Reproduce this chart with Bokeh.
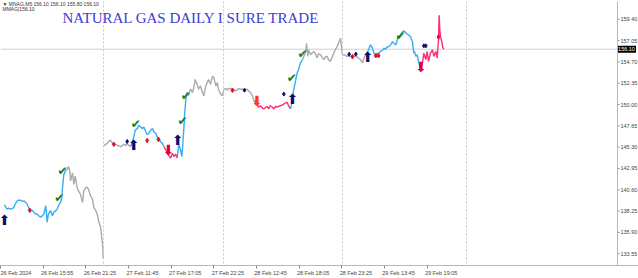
from bokeh.plotting import figure
from bokeh.models import Range1d, FixedTicker, Span, Label, ColumnDataSource
from bokeh.core.properties import value
from bokeh.embed import file_html
from bokeh.resources import INLINE

# ---------------- data (x = 5-minute bar number, y = price) ----------------
d1_bar = [6, 8, 10, 12, 15, 18, 20, 22, 25, 27, 30, 33, 35, 38, 40, 44, 48, 50, 52, 55,
          57, 60, 63, 65, 68, 70, 72, 75, 78, 80, 83, 85, 87, 90, 92, 93, 95, 98, 100,
          102, 104, 105, 108, 110, 112, 115, 117, 120, 123, 125, 128, 130, 132, 135, 138,
          140, 143, 145, 147, 150, 153, 154]
d1_close = [138.95, 138.66, 138.47, 138.58, 138.47, 138.55, 138.66, 139.01, 139.38, 139.45,
            139.45, 139.31, 139.38, 139.20, 139.01, 138.36, 138.30, 138.11, 137.93, 137.93,
            137.75, 137.57, 137.75, 137.93, 138.84, 137.03, 137.93, 138.30, 137.75, 138.11,
            138.30, 138.47, 138.84, 139.20, 139.74, 140.83, 142.27, 142.82, 142.82,
            143.18, 142.64, 141.56, 142.46, 141.19, 142.10, 140.83, 140.47, 140.10, 139.20,
            140.47, 140.83, 140.90, 140.64, 139.93, 139.56, 138.66, 138.30, 137.93, 137.21,
            136.48, 134.67, 133.04]
d1_runs = [("up", 39), ("flat", 23)]

d2_bar = [155, 158, 160, 162, 165, 168, 170, 172, 175, 177, 180, 183, 185, 188, 190, 192, 195,
          198, 200, 202, 205, 207, 210, 213, 215, 218, 220, 222, 225, 228, 230, 233, 235, 237,
          240, 243, 245,
          248, 250, 252, 255, 258, 260, 263, 265,
          267, 268, 270, 272, 273, 275, 276, 278, 280,
          282, 285, 288, 290, 292, 295, 297, 300, 303, 305, 308, 310, 312, 315, 318, 320, 323,
          325, 327, 330, 333]
d2_close = [145.47, 145.61, 145.72, 145.90, 146.07, 145.72, 145.61, 145.61, 145.53, 145.47,
            145.36, 145.47, 145.61, 145.47, 145.72, 145.53, 145.36,
            145.90, 146.44, 147.16, 147.34, 147.70, 147.53, 147.34, 147.53, 146.99, 146.69,
            146.80, 147.16, 147.34, 146.99, 146.80, 146.44, 146.26, 145.90, 145.72, 145.36,
            144.99, 144.63, 144.44, 144.09, 144.63, 144.27, 144.52, 144.09,
            145.36, 145.53, 144.99, 144.27, 145.17, 147.34, 148.79, 150.60, 151.33,
            150.96, 151.69, 151.33, 151.87, 152.77, 152.23, 151.69, 152.05, 151.33, 150.96,
            152.05, 152.42, 152.77, 152.23, 153.13, 152.96, 152.05, 152.42, 151.69, 151.15,
            150.96]
d2_runs = [("flat", 17), ("up", 20), ("down", 8), ("up", 9), ("flat", 21)]

d3_bar = [335, 338, 340, 342, 345, 348, 350, 352, 355, 357, 360, 363, 366, 370, 372, 375, 378, 380,
          382, 385, 387, 390, 393, 395, 398, 400, 402, 405, 408, 410, 413, 415, 417, 420, 423,
          425, 428, 430, 432, 435,
          437, 438, 440, 443, 445, 447, 450, 453,
          455, 458, 459, 461, 462, 465, 468, 470, 473, 475, 477, 480, 483, 485, 488, 490, 492,
          495, 498, 500, 502, 505, 507, 510]
d3_close = [151.69, 151.76, 151.61, 151.76, 151.76, 151.61, 151.61, 151.50, 151.61, 151.76,
            151.69, 151.69, 151.61, 151.69, 151.50, 151.33, 150.96, 150.42,
            150.31, 150.06, 149.70, 149.87, 149.59, 149.52, 149.70, 149.81, 149.52, 149.87,
            149.70, 149.52, 149.81, 149.70, 149.81, 149.87, 149.95, 150.06, 150.17, 150.24,
            149.87, 149.52,
            150.24, 150.79, 151.69, 152.77, 153.50, 153.86, 154.59, 154.95,
            155.31, 155.85, 156.76, 155.31, 156.03, 155.49, 155.74, 155.85, 155.49, 155.13,
            155.60, 155.49, 155.13, 154.95, 155.31, 155.31, 154.95, 154.76, 155.31, 155.67,
            156.03, 156.39, 156.76, 157.30]
d3_runs = [("flat", 18), ("down", 22), ("up", 8), ("flat", 24)]

d4_bar = [513, 515, 518, 520, 522, 525, 528, 530, 533, 535, 537, 540, 543, 545, 548,
          550, 552, 555, 558, 560, 563, 565, 567, 570, 573, 575, 578, 580, 582, 585, 588, 590,
          593, 595, 597, 600, 603, 605, 608, 610, 612, 615, 618, 619, 620, 621, 623, 625, 627, 630,
          633, 635, 638, 640, 642, 645, 648, 650, 653, 655, 657, 658, 659, 660, 662, 663, 665]
d4_close = [155.49, 155.49, 155.38, 155.31, 155.38, 155.31, 155.31, 155.38, 155.31, 155.24,
            155.13, 154.95, 154.59, 155.13, 155.49,
            155.74, 156.03, 156.58, 156.22, 155.67, 155.49, 155.67, 155.60, 155.85, 155.96,
            156.22, 156.11, 156.39, 156.33, 156.58, 156.93, 156.76, 156.58, 157.12, 157.48,
            157.66, 158.02, 158.13, 157.91, 157.77, 157.66, 157.48, 156.93, 156.22, 155.67,
            155.85, 155.31, 155.49, 154.76, 153.86,
            154.59, 155.67, 154.95, 155.85, 154.76, 155.67, 156.03, 155.31, 155.85, 155.13,
            157.12, 159.83, 158.21, 157.48, 156.93, 156.39, 156.10]
d4_runs = [("flat", 15), ("up", 35), ("down", 17)]

days = [(d1_bar, d1_close, d1_runs, False),
        (d2_bar, d2_close, d2_runs, False),
        (d3_bar, d3_close, d3_runs, True),
        (d4_bar, d4_close, d4_runs, True)]

up_arrow_bar = [6, 200, 266, 438, 551]
up_arrow_price = [137.24, 145.50, 146.04, 150.60, 155.27]
dn_arrow_bar = [252, 385, 631]
dn_arrow_price = [144.95, 150.39, 154.13]
dn_arrow_color = ["#e4003c", "#ff3a1a", "#e4003c"]
check_bar = [88, 93, 203, 273, 278, 437, 453, 600]
check_price = [139.74, 142.67, 147.89, 148.21, 150.93, 152.88, 155.60, 157.55]
red_dot_bar = [44, 170, 220, 237, 348, 528, 563, 567, 657]
red_dot_price = [138.33, 145.61, 146.04, 146.15, 151.58, 155.27, 155.38, 155.38, 157.45]
navy_dot_bar = [190, 366, 425, 523, 533, 635, 638]
navy_dot_price = [145.93, 151.58, 151.15, 155.54, 155.56, 156.47, 156.47]

tick_bars = [0, 64, 128, 192, 256, 320, 384, 448, 512, 576, 640]
tick_labels = ["26 Feb 2024", "26 Feb 15:55", "26 Feb 21:25", "27 Feb 11:45", "27 Feb 17:05",
               "27 Feb 22:25", "28 Feb 12:45", "28 Feb 18:05", "28 Feb 23:25", "29 Feb 13:45",
               "29 Feb 19:05"]
price_ticks = [133.55, 135.90, 138.25, 140.60, 142.95, 145.30, 147.65, 150.00, 152.35,
               154.70, 157.05, 159.40]
separator_bars = [154.5, 334.5, 513, 699]
last_price = 156.10
header_1 = "\u25bc MNAG,M5  156.10 156.10 155.80 156.10"
header_2 = "MMAG|156.10"
title_text = "NATURAL GAS  DAILY I SURE TRADE"

trend_colors = {"up": "#38acf5", "down": "#ff2a78", "flat": "#ababab"}

# ---------------- layout constants ----------------
BARS_PER_PX = 1.5
CANVAS_W = 638
EDGE = 617 * BARS_PER_PX          # right edge of the chart area (price scale starts here)
Y_LO, Y_HI = 132.25, 161.36

p = figure(width=CANVAS_W, height=278, output_backend="svg", toolbar_location=None,
           x_range=Range1d(0, CANVAS_W * BARS_PER_PX), y_range=Range1d(Y_LO, Y_HI),
           min_border_left=0, min_border_top=1, min_border_right=0, min_border_bottom=0)
p.yaxis.visible = False
p.xgrid.visible = False
p.ygrid.visible = False
p.outline_line_color = None
p.background_fill_color = "white"
p.border_fill_color = "white"

# separators, chart edge and last-price line
for sb in separator_bars:
    p.add_layout(Span(location=sb, dimension="height", line_color="#c8c8c8",
                      line_width=1, line_dash="2 2"))
p.add_layout(Span(location=EDGE, dimension="height", line_color="#b8b8b8", line_width=1))
p.segment(x0=[0], y0=[last_price], x1=[EDGE], y1=[last_price], line_color="#cfcfcf",
          line_width=1)

# price line, coloured by trend state
xs, ys, cs = [], [], []
prev = None
for bars, closes, runs, connect in days:
    i = 0
    for state, n in runs:
        seg_x = list(bars[i:i + n])
        seg_y = list(closes[i:i + n])
        if i > 0:
            seg_x.insert(0, bars[i - 1])
            seg_y.insert(0, closes[i - 1])
        elif connect and prev is not None:
            seg_x.insert(0, prev[0])
            seg_y.insert(0, prev[1])
        xs.append(seg_x)
        ys.append(seg_y)
        cs.append(trend_colors[state])
        i += n
    prev = (bars[-1], closes[-1])

p.multi_line(xs=xs, ys=ys, line_color=cs, line_width=1.4)

# signals
p.scatter(red_dot_bar, red_dot_price, marker="diamond", size=4.5, color="#e0102a")
p.scatter(navy_dot_bar, navy_dot_price, marker="diamond", size=4, color="#0c0c70")
p.text(x=check_bar, y=check_price, text=["\u2714"] * len(check_bar),
       text_font=value("DejaVu Sans"), text_font_size="12px", text_color="#16801a",
       text_align="center", text_baseline="middle")
p.text(x=up_arrow_bar, y=up_arrow_price, text=["\u2b06"] * len(up_arrow_bar),
       text_font=value("DejaVu Sans"), text_font_size="14px", text_color="#0b0b6b",
       text_align="center", text_baseline="middle")
src_dn = ColumnDataSource(dict(x=dn_arrow_bar, y=dn_arrow_price, c=dn_arrow_color,
                               t=["\u2b07"] * len(dn_arrow_bar)))
p.text(x="x", y="y", text="t", text_color="c", source=src_dn,
       text_font=value("DejaVu Sans"), text_font_size="14px",
       text_align="center", text_baseline="middle")

# price scale (drawn at the right of the chart area)
p.segment(x0=[EDGE] * len(price_ticks), y0=price_ticks,
          x1=[EDGE + 2 * BARS_PER_PX] * len(price_ticks), y1=price_ticks,
          line_color="#888888", line_width=1)
p.text(x=[EDGE + 3 * BARS_PER_PX] * len(price_ticks), y=price_ticks,
       text=[f"{v:.2f}" for v in price_ticks], text_font=value("Liberation Sans"),
       text_font_size="5.5px", text_color="#444444", text_align="left",
       text_baseline="middle")
p.rect(x=[EDGE + 9 * BARS_PER_PX], y=[last_price], width=19, height=7,
       width_units="screen", height_units="screen", fill_color="black", line_color=None)
p.text(x=[EDGE + 9 * BARS_PER_PX], y=[last_price], text=[f"{last_price:.2f}"],
       text_font=value("Liberation Sans"), text_font_size="5.5px", text_color="white",
       text_align="center", text_baseline="middle")

# time axis
p.xaxis.ticker = FixedTicker(ticks=[t + 21 for t in tick_bars], minor_ticks=tick_bars)
p.xaxis.major_label_overrides = {t + 21: lab for t, lab in zip(tick_bars, tick_labels)}
p.xaxis.major_tick_in = 0
p.xaxis.major_tick_out = 0
p.xaxis.minor_tick_in = 0
p.xaxis.minor_tick_out = 3
p.xaxis.minor_tick_line_color = "#888888"
p.xaxis.axis_line_color = "#b8b8b8"
p.xaxis.major_label_standoff = 1
p.xaxis.major_label_text_font = "Liberation Sans"
p.xaxis.major_label_text_font_size = "5.5px"
p.xaxis.major_label_text_color = "#444444"

# texts
p.add_layout(Label(x=62, y=248, x_units="screen", y_units="screen", text=title_text,
                   text_font="Liberation Serif", text_font_size="15px",
                   text_color="#3c3cd2", text_baseline="alphabetic"))
p.add_layout(Label(x=2, y=262, x_units="screen", y_units="screen", text=header_1,
                   text_font="Liberation Sans", text_font_size="5px",
                   text_color="#333333", text_baseline="alphabetic"))
p.add_layout(Label(x=2, y=257, x_units="screen", y_units="screen", text=header_2,
                   text_font="Liberation Sans", text_font_size="5px",
                   text_color="#333333", text_baseline="alphabetic"))

open("out.html", "w").write(file_html(p, INLINE))
